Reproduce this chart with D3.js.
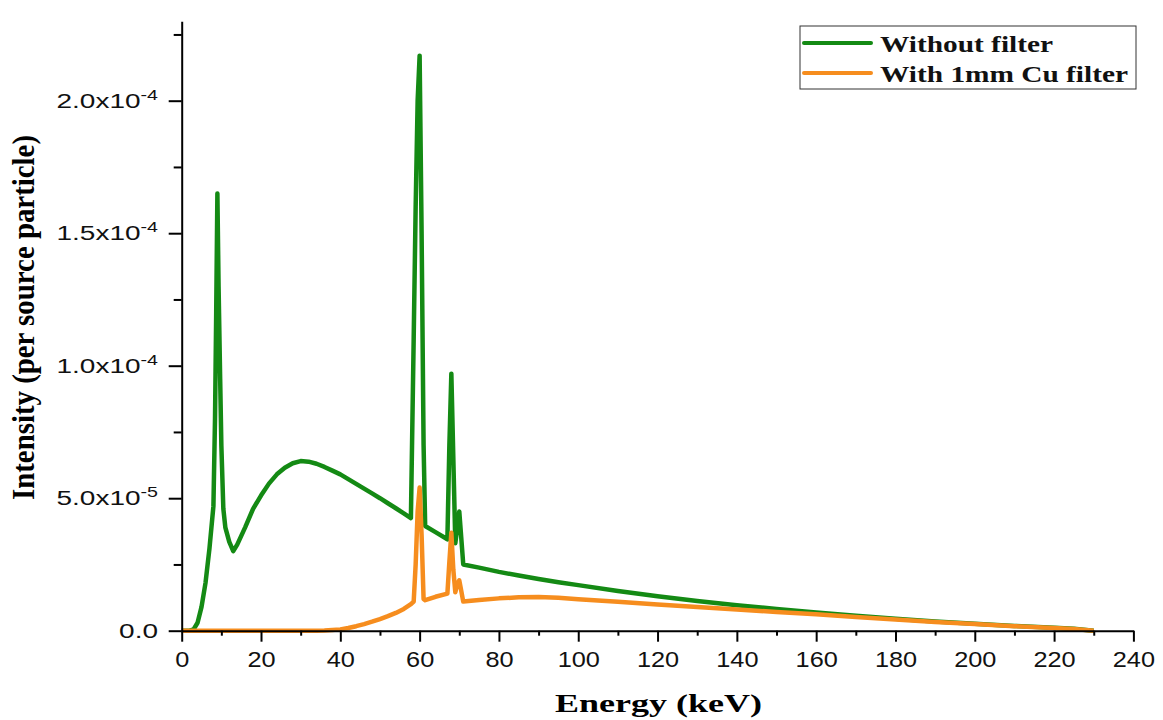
<!DOCTYPE html>
<html>
<head>
<meta charset="utf-8">
<script src="https://cdn.jsdelivr.net/npm/d3@7"></script>
<style>
  html, body { margin: 0; padding: 0; background: #ffffff; }
  svg { display: block; }
</style>
</head>
<body>
<svg id="chart" width="1163" height="720"></svg>
<script>
// Photon energy grid (keV) shared by both spectra
const energy = [0, 2, 3, 4, 5, 6, 7, 8, 8.4, 8.7, 9, 9.3, 9.7, 10, 10.5, 11, 12, 13, 14, 16, 18,
  20, 22, 24, 26, 28, 30, 32, 34, 36, 38, 40, 42, 44, 46, 48, 50, 52, 54, 56, 57.8, 58.5, 59, 59.5, 60, 60.5,
  61, 61.4, 64, 67, 67.5, 68, 68.5, 69, 69.5, 70, 70.5, 71, 75, 80, 85, 90, 95, 100, 110, 120,
  130, 140, 150, 160, 170, 180, 190, 200, 210, 220, 225, 230];

// Intensity per source particle, in units of 1e-5
const unit = 1e-5;
const withoutFilter = [0, 0, 0.05, 0.3, 0.9, 1.8, 3.1, 4.7, 8, 12, 16.5, 13, 9.5, 7, 4.6, 3.9, 3.35, 3.0, 3.25, 3.9, 4.6,
  5.1, 5.55, 5.9, 6.15, 6.32, 6.4, 6.38, 6.3, 6.18, 6.04, 5.9, 5.72, 5.54, 5.36, 5.18, 5.0, 4.81, 4.62, 4.43, 4.25, 11, 16, 20, 21.7, 15,
  7, 3.95, 3.72, 3.45, 7, 9.7, 6.5, 3.3, 3.9, 4.5, 3.5, 2.5, 2.38, 2.22, 2.08, 1.95, 1.83, 1.72, 1.5, 1.3,
  1.12, 0.96, 0.82, 0.69, 0.56, 0.45, 0.35, 0.26, 0.18, 0.11, 0.07, 0];
const withCuFilter = [0, 0, 0, 0, 0, 0, 0, 0, 0, 0, 0, 0, 0, 0, 0, 0, 0, 0, 0, 0, 0,
  0, 0, 0, 0, 0, 0, 0, 0, 0.01, 0.03, 0.05, 0.1, 0.17, 0.25, 0.34, 0.44, 0.55, 0.67, 0.82, 1.0, 1.1, 2.5, 4.5, 5.4, 3.6,
  1.2, 1.15, 1.28, 1.4, 2.6, 3.7, 2.3, 1.45, 1.75, 1.9, 1.5, 1.1, 1.16, 1.22, 1.26, 1.27, 1.24, 1.19, 1.09, 0.99,
  0.89, 0.8, 0.71, 0.62, 0.52, 0.42, 0.33, 0.25, 0.17, 0.1, 0.06, 0];

const seriesNames = ["Without filter", "With 1mm Cu filter"];
const seriesColors = ["#148a14", "#f68d1e"];

// Axis ticks
const xMajorTicks = d3.range(0, 241, 20);
const xMinorTicks = d3.range(10, 240, 20);
const yMajorTicks = [0, 5e-5, 1e-4, 1.5e-4, 2e-4];
const yMinorTicks = [2.5e-5, 7.5e-5, 1.25e-4, 1.75e-4, 2.25e-4];
const yTickMantissa = ["0.0", "5.0x10", "1.0x10", "1.5x10", "2.0x10"];
const yTickExponent = ["", "-5", "-4", "-4", "-4"];

const svg = d3.select("#chart");

const x = d3.scaleLinear().domain([0, 240]).range([181.7, 1133.4]);
const y = d3.scaleLinear().domain([0, 2.3e-4]).range([630.7, 21.2]);

const sansFont = "'Liberation Sans', Arial, sans-serif";
const serifFont = "'Liberation Serif', 'Times New Roman', serif";

// ---- spectra ----
const rows = energy.map((e, i) => ({ e, a: withoutFilter[i] * unit, b: withCuFilter[i] * unit }));
const lineA = d3.line().x(d => x(d.e)).y(d => y(d.a));
const lineB = d3.line().x(d => x(d.e)).y(d => y(d.b));

const plot = svg.append("g");
plot.append("path").datum(rows).attr("d", lineA)
  .attr("fill", "none").attr("stroke", seriesColors[0])
  .attr("stroke-width", 4.5).attr("stroke-linejoin", "round");
plot.append("path").datum(rows).attr("d", lineB)
  .attr("fill", "none").attr("stroke", seriesColors[1])
  .attr("stroke-width", 4.5).attr("stroke-linejoin", "round");

// ---- x axis ----
const xAxisG = svg.append("g").attr("transform", `translate(0,${y(0)})`);
xAxisG.call(d3.axisBottom(x).tickValues(xMajorTicks).tickSize(11).tickSizeOuter(0).tickPadding(9.7)
  .tickFormat(d3.format("d")));
xAxisG.append("g").call(d3.axisBottom(x).tickValues(xMinorTicks).tickSize(5).tickFormat(() => ""))
  .select(".domain").remove();
xAxisG.selectAll(".domain, .tick line").attr("stroke", "#000").attr("stroke-width", 2);
xAxisG.selectAll(".tick text")
  .attr("font-family", sansFont).attr("font-size", 22).attr("fill", "#111")
  .attr("transform", "scale(1.15,1)");

// ---- y axis ----
const yAxisG = svg.append("g").attr("transform", `translate(${x(0)},0)`);
yAxisG.call(d3.axisLeft(y).tickValues(yMajorTicks).tickSize(13).tickSizeOuter(0).tickFormat(() => ""));
yAxisG.append("g").call(d3.axisLeft(y).tickValues(yMinorTicks).tickSize(8).tickFormat(() => ""))
  .select(".domain").remove();
yAxisG.selectAll(".domain, .tick line").attr("stroke", "#000").attr("stroke-width", 2);

const yLabels = svg.append("g");
yMajorTicks.forEach((v, i) => {
  const t = yLabels.append("text")
    .attr("transform", `translate(158,${y(v) + 7}) scale(1.4,1)`)
    .attr("text-anchor", "end")
    .attr("font-family", sansFont).attr("font-size", 20).attr("fill", "#111");
  t.append("tspan").text(yTickMantissa[i]);
  if (yTickExponent[i]) {
    t.append("tspan").attr("font-size", 14).attr("dy", -8).text(yTickExponent[i]);
  }
});

// ---- axis titles ----
svg.append("text")
  .attr("x", 658.5).attr("y", 712)
  .attr("text-anchor", "middle")
  .attr("font-family", serifFont).attr("font-weight", "bold").attr("font-size", 25)
  .attr("textLength", 207).attr("lengthAdjust", "spacingAndGlyphs")
  .text("Energy (keV)");

svg.append("text")
  .attr("transform", "translate(34,317.5) rotate(-90)")
  .attr("text-anchor", "middle")
  .attr("font-family", serifFont).attr("font-weight", "bold").attr("font-size", 31)
  .attr("textLength", 365).attr("lengthAdjust", "spacingAndGlyphs")
  .text("Intensity (per source particle)");

// ---- legend ----
const legend = svg.append("g");
legend.append("rect")
  .attr("x", 800).attr("y", 26).attr("width", 336).attr("height", 63)
  .attr("fill", "#fff").attr("stroke", "#333").attr("stroke-width", 1);
const legendRowY = [43, 73];
const legendTextWidth = [173, 248];
seriesNames.forEach((name, i) => {
  legend.append("line")
    .attr("x1", 804).attr("x2", 871)
    .attr("y1", legendRowY[i]).attr("y2", legendRowY[i])
    .attr("stroke", seriesColors[i]).attr("stroke-width", 4).attr("stroke-linecap", "round");
  legend.append("text")
    .attr("x", 880).attr("y", legendRowY[i] + 9)
    .attr("font-family", serifFont).attr("font-weight", "bold").attr("font-size", 24)
    .attr("fill", "#111")
    .attr("textLength", legendTextWidth[i]).attr("lengthAdjust", "spacingAndGlyphs")
    .text(name);
});
</script>
</body>
</html>
